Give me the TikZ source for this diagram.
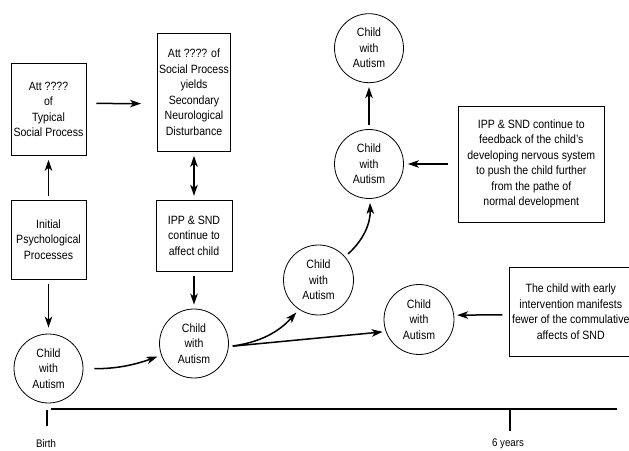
\documentclass[tikz,border=0pt]{standalone}
\usepackage{fontspec}
\setmainfont{Liberation Sans}[FakeStretch=0.88]
\usetikzlibrary{arrows.meta,positioning}

\begin{document}
\begin{tikzpicture}[->,>={Stealth[length=11pt,width=7.5pt,inset=3pt]}, shorten >= 4pt, shorten <= 4pt, x=1pt, y=1pt, line width=1.5pt,
                    font=\fontsize{12}{15.5}\selectfont]
        \tikzset{
           procBox/.style={
                        rectangle,
                        draw=black,
                        fill=none,
                        text=black,
                        line width=0.8pt,
                        align=center,
                        inner sep=1pt
                       },
           childNode/.style={
                        circle,
                        draw=black,
                        fill=none,
                        text=black,
                        line width=0.8pt,
                        align=center,
                        minimum size=69pt,
                        inner sep=0pt
                       },
           timeLabel/.style={
                        font=\fontsize{11}{12}\selectfont,
                        text=black
                       },
                 };
        \useasboundingbox (0,0) rectangle (629,450);
    %--------------------
        \node[childNode]  (childBirth) at (48.5,81.5)                  {Child\\with\\Autism};
        \node[procBox, minimum width=75pt, minimum height=79pt]
                          (initProc)   [above=54pt of childBirth]      {Initial\\Psychological\\Processes};
        \node[procBox, minimum width=75pt, minimum height=92pt]
                          (attTypical) [above=44pt of initProc]        {Att ????\\of\\Typical\\Social Process};

        \node[childNode]  (childTwo)   at (194,106.5)                  {Child\\with\\Autism};
        \node[procBox, minimum width=76pt, minimum height=71pt]
                          (ippAffect)  [above=37pt of childTwo]        {IPP \& SND\\continue to\\affect child};
        \node[procBox, minimum width=73pt, minimum height=118pt]
                          (attSocial)  [above=48pt of ippAffect]       {Att ???? of\\Social Process\\yields\\Secondary\\Neurological\\Disturbance};

        \node[childNode, minimum size=70pt]
                          (childThree) at (318.5,170)                  {Child\\with\\Autism};
        \node[childNode, minimum size=70pt]
                          (childEarly) at (419,130.5)                  {Child\\with\\Autism};
        \node[procBox, minimum width=122pt, minimum height=89pt]
                          (earlyInt)   [right=55pt of childEarly, yshift=8pt]
                                                                       {The child with early\\intervention manifests\\fewer of the commulative\\affects of SND};

        \node[childNode]  (childFour)  at (369,286)                    {Child\\with\\Autism};
        \node[childNode]  (childFive)  [above=46pt of childFour]       {Child\\with\\Autism};
        \node[procBox, minimum width=146pt, minimum height=116pt]
                          (feedback)   [right=54pt of childFour]       {IPP \& SND continue to\\feedback of the child's\\developing nervous system\\to push the child further\\from the pathe of\\normal development};
    %--------------------
        \coordinate (lineStart) at (51,41);
        \coordinate (lineEnd)   at (617,41);
        \coordinate (birthTop)  at (47,40);
        \coordinate (birthBot)  at (47,24);
        \coordinate (sixTop)    at (510,41);
        \coordinate (sixBot)    at (510,19);

        \node[timeLabel]  (birth)      at (46,6)                       {Birth};
        \node[timeLabel]  (sixYears)   at (508,6)                      {6 years};
    %--------------------
        \path (initProc)       edge[shorten >=6pt] (childBirth)
              (initProc)       edge (attTypical)
              (attTypical.9)   edge[shorten <=10pt, shorten >=16pt] (attSocial.197)
              (attSocial)      edge[<->] (ippAffect)
              (ippAffect)      edge (childTwo)

              (childBirth)     edge[bend right=10, shorten <=11pt] (childTwo)
              (childTwo.-5)    edge[bend right=20] (childThree)
              (childTwo.-5)    edge[shorten >=3pt] (childEarly.200)
              (childThree)     edge[bend right=25] (childFour)
              (childFour)      edge (childFive)

              (feedback)       edge[shorten <=10pt] (childFour)
              (earlyInt.183)   edge[shorten <=7pt, shorten >=3pt] (childEarly.7);

        \path[-, shorten <=0pt, shorten >=0pt]
              (lineStart)      edge (lineEnd)
              (birthTop)       edge (birthBot)
              (sixTop)         edge (sixBot);
    \end{tikzpicture}
\end{document}
